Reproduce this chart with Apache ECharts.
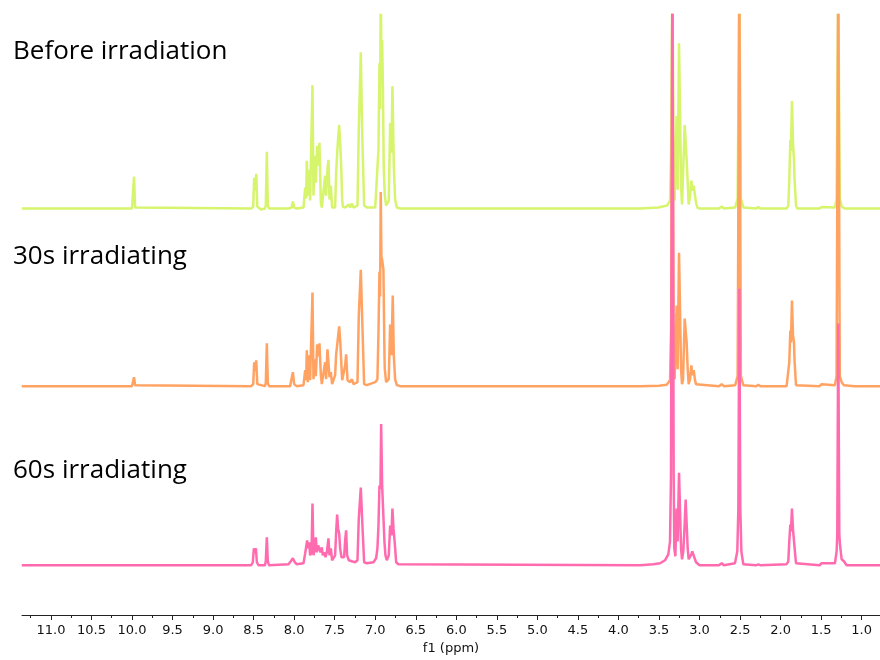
<!DOCTYPE html>
<html>
<head>
<meta charset="utf-8">
<script src="https://cdn.jsdelivr.net/npm/echarts@6/dist/echarts.min.js"></script>
<style>html,body{margin:0;padding:0;background:#fff}#chart{width:880px;height:660px}</style>
</head>
<body>
<div id="chart"></div>
<script>
// ---- data: [ppm, intensity] ----
const traceNames = ['Before irradiation', '30s irradiating', '60s irradiating'];

const beforeIrradiation = [
[11.36,0],[10.0,0],[9.988,1],[9.975,32],[9.962,1],[9.95,0],
[8.53,0],[8.505,2],[8.493,31],[8.481,18],[8.468,35],[8.455,2],[8.44,0],[8.41,-1],[8.36,0],[8.35,3],[8.337,57],[8.325,3],[8.31,0],
[8.07,0],[8.03,1],[8.016,7],[8.0,1],[7.97,0],
[7.885,1],[7.864,21],[7.852,10],[7.844,48],[7.832,13],[7.819,39],[7.803,8],[7.786,10],[7.774,124],[7.762,13],[7.745,53],[7.733,26],[7.716,63],[7.700,43],[7.688,66],[7.671,6],[7.659,1],[7.638,2],
[7.618,33],[7.606,13],[7.589,40],[7.577,49],[7.564,9],[7.548,23],[7.532,1],[7.495,1],
[7.482,36],[7.470,55],[7.458,70],[7.445,84],[7.433,66],[7.421,45],[7.408,10],[7.400,2],[7.371,1],[7.326,4],[7.310,1],[7.289,5],[7.268,1],[7.219,3],[7.203,80],[7.178,157],[7.162,80],[7.137,3],[7.104,1],
[7.0,1],[6.981,3],[6.960,60],[6.948,146],[6.940,100],[6.932,230],[6.924,150],[6.915,169],[6.905,120],[6.895,40],[6.882,13],[6.866,3],[6.857,2],[6.833,8],[6.816,86],[6.800,56],[6.788,123],[6.771,43],[6.755,9],[6.734,1],[6.693,0],
[3.734,0],[3.508,1],[3.40,3],[3.364,8],[3.35,60],[3.335,230],[3.32,60],[3.307,8],[3.298,6],[3.282,93],[3.270,19],[3.253,166],[3.241,99],[3.228,23],[3.216,4],[3.200,3],[3.183,84],[3.171,86],[3.159,49],[3.146,26],[3.134,4],[3.117,13],[3.101,28],[3.089,18],[3.072,23],[3.056,13],[3.043,6],[3.027,1],[3.0,0],
[2.76,0],[2.727,2],[2.70,0],[2.56,1],[2.53,10],[2.509,230],[2.49,10],[2.46,1],[2.30,0],[2.275,1.5],[2.25,0],[2.11,0],[2.09,1.5],[2.07,0],
[1.926,0],[1.905,3],[1.893,29],[1.880,69],[1.872,58],[1.860,108],[1.847,66],[1.835,49],[1.827,28],[1.810,3],[1.794,0],
[1.52,0],[1.494,1.5],[1.47,0],[1.33,1],[1.31,10],[1.289,230],[1.27,10],[1.247,2],[1.21,0],[1.09,0],[1.071,1.5],[1.05,0],[0.774,0]
];

const irradiating30s = [
[11.36,0],[10.0,0],[9.988,1],[9.975,9],[9.962,1],[9.95,0],
[8.53,0],[8.505,2],[8.493,24],[8.481,15],[8.468,26],[8.455,2],[8.44,0],[8.36,0],[8.35,3],[8.337,43],[8.325,3],[8.31,0],
[8.05,0],[8.03,2],[8.016,14],[8.0,2],[7.99,3],[7.97,0],
[7.885,1],[7.864,16],[7.852,6],[7.844,36],[7.832,4],[7.819,31],[7.803,6],[7.786,8],[7.774,94],[7.762,7],[7.745,27],[7.733,10],[7.716,42],[7.700,30],[7.688,43],[7.671,11],[7.659,2],[7.638,4],
[7.618,24],[7.606,7],[7.589,37],[7.577,39],[7.564,9],[7.548,14],[7.532,2],[7.495,11],
[7.482,32],[7.462,47],[7.445,60],[7.433,47],[7.421,27],[7.408,6],[7.392,7],[7.371,21],[7.359,32],[7.342,6],[7.310,4],[7.289,7],[7.268,2],[7.219,4],[7.203,71],[7.178,117],[7.162,71],[7.137,2],[7.104,1],
[7.001,4],[6.989,6],[6.973,7],[6.960,54],[6.948,115],[6.940,90],[6.932,195],[6.924,130],[6.915,127],[6.899,117],[6.886,30],[6.882,17],[6.866,4],[6.833,7],[6.816,62],[6.800,31],[6.784,91],[6.771,31],[6.755,7],[6.734,1],[6.693,0],
[3.734,0],[3.50,0.5],[3.405,1.5],[3.364,6],[3.35,60],[3.335,420],[3.32,60],[3.307,7],[3.282,81],[3.270,17],[3.253,134],[3.241,79],[3.228,17],[3.216,2],[3.204,6],[3.183,68],[3.171,66],[3.159,44],[3.146,17],[3.134,2],[3.117,7],[3.101,21],[3.089,11],[3.072,16],[3.056,6],[3.043,2],[3.027,0],
[2.76,0],[2.727,2],[2.70,0],[2.56,1],[2.53,10],[2.509,420],[2.49,10],[2.46,1],[2.30,0],[2.275,1.5],[2.25,0],
[1.926,0],[1.905,2],[1.893,24],[1.880,56],[1.872,44],[1.860,86],[1.847,51],[1.835,44],[1.827,24],[1.810,1],[1.794,0],
[1.52,0],[1.494,2],[1.47,0],[1.33,1],[1.31,10],[1.289,420],[1.27,10],[1.247,4],[1.219,1],[1.206,0],[1.09,0],[1.071,1.5],[1.05,0],[0.774,0]
];

const irradiating60s = [
[11.36,0],[8.53,0],[8.51,3],[8.497,17],[8.485,12],[8.472,17],[8.46,3],[8.44,0],[8.36,0],[8.35,4],[8.337,28],[8.325,4],[8.31,0],
[8.070,1],[8.041,4],[8.016,7],[7.992,3],[7.967,1],
[7.885,2],[7.864,12],[7.852,10],[7.840,25],[7.828,17],[7.815,23],[7.803,10],[7.786,13],[7.774,62],[7.762,10],[7.745,17],[7.733,28],[7.721,13],[7.704,20],[7.688,18],[7.675,13],[7.659,18],[7.647,10],[7.630,13],[7.614,8],[7.597,13],[7.577,27],[7.564,10],[7.548,17],[7.532,5],[7.515,5],
[7.495,10],[7.482,33],[7.470,51],[7.458,37],[7.445,32],[7.433,17],[7.416,8],[7.400,7],[7.384,8],[7.371,25],[7.359,35],[7.347,10],[7.326,5],[7.289,4],[7.248,3],[7.219,5],[7.203,47],[7.178,78],[7.162,47],[7.137,3],[7.104,2],
[7.022,3],[6.989,7],[6.973,17],[6.960,40],[6.948,80],[6.936,77],[6.927,142],[6.915,80],[6.899,80],[6.886,23],[6.874,10],[6.857,5],[6.833,10],[6.816,40],[6.800,30],[6.788,57],[6.775,37],[6.759,22],[6.742,3],[6.714,1],[6.693,0],
[3.734,0],[3.570,1],[3.487,2],[3.426,5],[3.385,11],[3.364,24],[3.352,90],[3.335,600],[3.319,90],[3.311,17],[3.298,9],[3.282,57],[3.270,24],[3.253,93],[3.241,57],[3.228,17],[3.216,6],[3.200,14],[3.183,42],[3.171,66],[3.159,42],[3.146,17],[3.134,6],[3.117,7],[3.101,11],[3.089,14],[3.076,16],[3.060,7],[3.043,3],[3.027,1],[3.0,0],
[2.76,0],[2.727,2],[2.70,0],[2.563,2],[2.534,14],[2.521,57],[2.509,278],[2.497,57],[2.484,14],[2.460,1],[2.30,0],[2.275,1],[2.25,0],
[1.926,1],[1.905,4],[1.893,24],[1.880,41],[1.872,34],[1.860,57],[1.847,36],[1.835,34],[1.827,17],[1.810,2],[1.794,0],
[1.52,0],[1.494,2],[1.47,0],[1.330,2],[1.309,14],[1.301,31],[1.289,243],[1.276,31],[1.268,21],[1.247,6],[1.219,4],[1.186,0],[0.774,0]
];

const majorTicks = [11.0,10.5,10.0,9.5,9.0,8.5,8.0,7.5,7.0,6.5,6.0,5.5,5.0,4.5,4.0,3.5,3.0,2.5,2.0,1.5,1.0];
const minorTicks = [11.25,10.75,10.25,9.75,9.25,8.75,8.25,7.75,7.25,6.75,6.25,5.75,5.25,4.75,4.25,3.75,3.25,2.75,2.25,1.75,1.25];
const axisName = 'f1 (ppm)';

// ---- presentation ----
const X_MIN = 0.774, X_MAX = 11.357;
const traces = [beforeIrradiation, irradiating30s, irradiating60s];
const offsets = [408.5, 230, 50];
const colors = ['#d6f46c', '#ffa262', '#ff6bae'];
const titleTops = [34, 239, 453];

const chart = echarts.init(document.getElementById('chart'), null, {renderer: 'canvas'});
const axisColor = '#222';
const option = {
  animation: false,
  backgroundColor: '#fff',
  title: traceNames.map((t, i) => ({
    text: t, left: 8, top: titleTops[i],
    textStyle: {fontSize: 26, fontFamily: 'Open Sans', fontWeight: 'normal', color: '#000'}
  })),
  grid: {left: 22, right: 0, top: 15, bottom: 42},
  xAxis: [
    {
      type: 'value', inverse: true, min: X_MIN, max: X_MAX, position: 'bottom',
      axisLine: {show: true, lineStyle: {color: axisColor, width: 1}},
      axisTick: {show: true, customValues: majorTicks, length: 5, lineStyle: {color: axisColor}},
      axisLabel: {show: true, customValues: majorTicks, formatter: v => Number(v).toFixed(1),
        fontFamily: 'DejaVu Sans', fontSize: 13, color: '#111', margin: 9},
      splitLine: {show: false},
      name: axisName, nameLocation: 'middle', nameGap: 27,
      nameTextStyle: {fontFamily: 'DejaVu Sans', fontSize: 13, color: '#111'}
    },
    {
      type: 'value', inverse: true, min: X_MIN, max: X_MAX, position: 'bottom',
      axisLine: {show: false},
      axisTick: {show: true, customValues: minorTicks, length: 3, lineStyle: {color: axisColor}},
      axisLabel: {show: false},
      splitLine: {show: false}
    }
  ],
  yAxis: {type: 'value', min: 0, max: 603, show: false},
  series: traces.map((tr, i) => ({
    type: 'line', xAxisIndex: 0, showSymbol: false, symbol: 'none', clip: true,
    lineStyle: {color: colors[i], width: 2.5}, itemStyle: {color: colors[i]},
    data: tr.map(p => [p[0], p[1] + offsets[i]]),
    z: 2 + i
  }))
};
chart.setOption(option);
</script>
</body>
</html>
